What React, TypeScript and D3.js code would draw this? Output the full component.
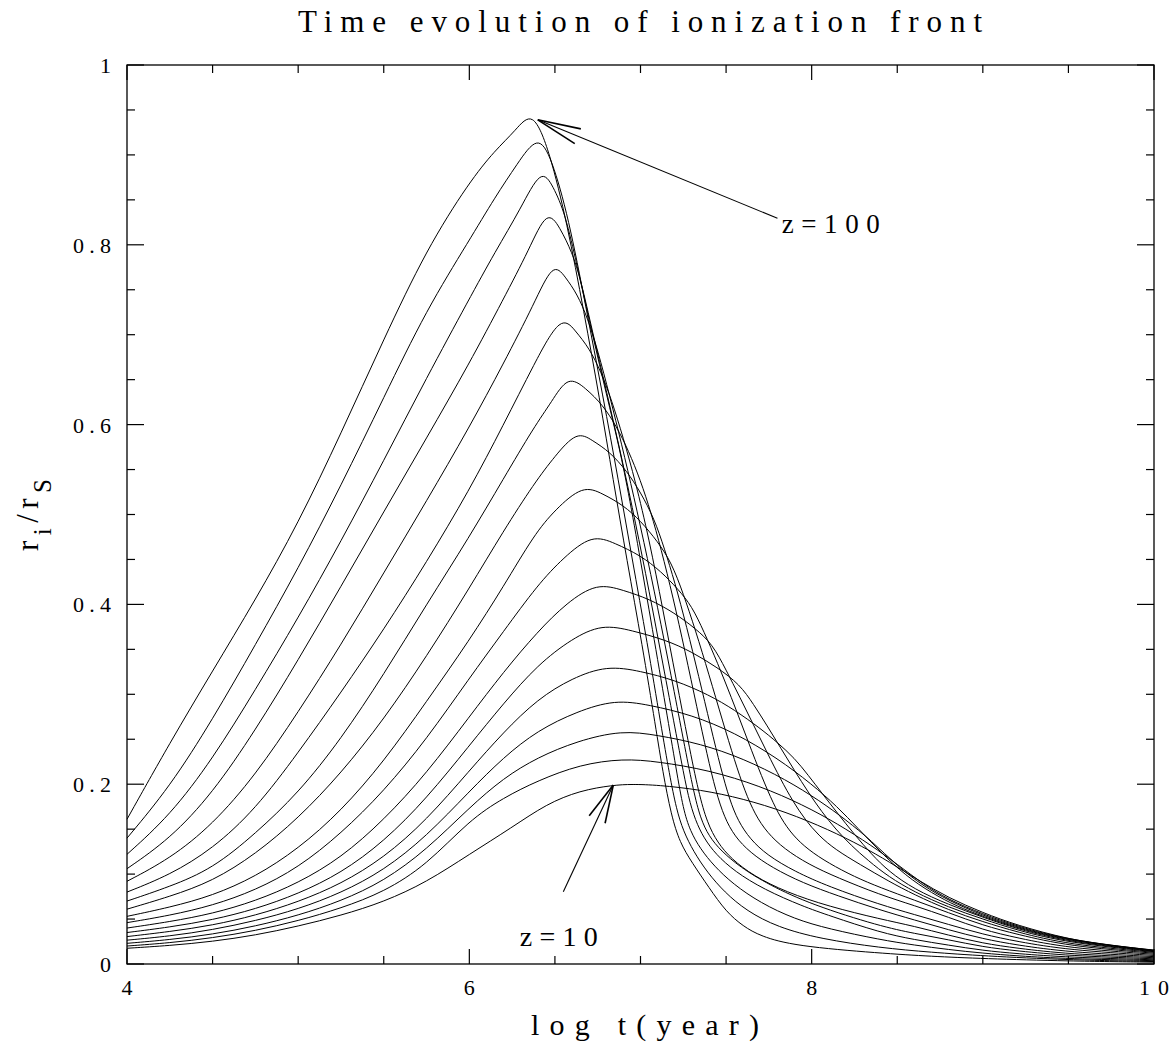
import React from 'react';
import * as d3 from 'd3';

// ---------- axes / labels ----------
const X_DOMAIN: [number, number] = [4, 10];
const Y_DOMAIN: [number, number] = [0, 1];
const X_MAJOR = [4, 6, 8, 10];
const X_MINOR = [4.5, 5, 5.5, 6.5, 7, 7.5, 8.5, 9, 9.5];
const X_LABELS = ['4', '6', '8', '10'];
const Y_MAJOR = [0, 0.2, 0.4, 0.6, 0.8, 1];
const Y_MINOR = [0.05, 0.1, 0.15, 0.25, 0.3, 0.35, 0.45, 0.5, 0.55, 0.65, 0.7, 0.75, 0.85, 0.9, 0.95];
const Y_LABELS = ['0', '0.2', '0.4', '0.6', '0.8', '1'];
const TITLE = 'Time evolution of ionization front';
const X_TITLE = 'log t(year)';

// ---------- series: [log t, r_i/r_S], one per turn-on redshift ----------
const REDSHIFTS = [10, 11.5, 13.3, 15.4, 17.8, 20.5, 23.7, 27.4, 31.6, 36.5, 42.2, 48.7, 56.2, 64.9, 75, 86.6, 100];

const Z010 = [[4.0,.0175],[4.25,.0205],[4.5,.025],[4.75,.032],[5.0,.042],[5.25,.054],[5.5,.069],[5.75,.091],[6.0,.122],[6.25,.152],[6.45,.178],[6.647,.193],[6.84,.199],[6.95,.200],[7.1,.1991],[7.35,.1939],[7.6,.1839],[7.85,.1691],[8.1,.1495],[8.3,.1304],[8.45,.114],[8.62,.0935],[8.8,.0735],[9.0,.057],[9.2,.043],[9.5,.0275],[9.75,.0205],[10,.0155]];
const Z011 = [[4.0,.020],[4.25,.0235],[4.5,.029],[4.75,.037],[5.0,.048],[5.25,.062],[5.5,.08],[5.75,.11],[6.0,.16],[6.2,.185],[6.4,.204],[6.647,.222],[6.9,.2285],[7.1,.2252],[7.4,.2157],[7.7,.198],[7.95,.177],[8.15,.1562],[8.35,.1318],[8.5,.111],[8.65,.089],[8.8,.0715],[9.0,.0555],[9.2,.042],[9.5,.0265],[10,.0152]];
const Z013 = [[4.0,.023],[4.25,.027],[4.5,.033],[4.75,.042],[5.0,.054],[5.25,.07],[5.5,.092],[5.75,.127],[6.0,.174],[6.2,.207],[6.4,.23],[6.63,.248],[6.89,.26],[7.1,.2545],[7.35,.2451],[7.6,.2286],[7.85,.2051],[8.05,.1812],[8.2,.1604],[8.35,.137],[8.5,.109],[8.65,.087],[8.8,.0705],[9.0,.054],[9.2,.041],[9.5,.026],[10,.0149]];
const Z015 = [[4.0,.0265],[4.25,.031],[4.5,.038],[4.75,.048],[5.0,.061],[5.25,.079],[5.5,.104],[5.75,.142],[6.0,.192],[6.2,.23],[6.4,.26],[6.63,.281],[6.851,.294],[7.05,.2883],[7.3,.2771],[7.55,.2574],[7.8,.229],[8.0,.2002],[8.15,.1749],[8.27,.151],[8.4,.125],[8.55,.098],[8.7,.079],[8.85,.064],[9.0,.053],[9.2,.04],[9.5,.0255],[10,.0146]];
const Z018 = [[4.0,.0305],[4.25,.036],[4.5,.043],[4.75,.054],[5.0,.069],[5.25,.089],[5.5,.118],[5.75,.16],[6.0,.215],[6.2,.258],[6.4,.295],[6.6,.318],[6.804,.332],[7.0,.3258],[7.2,.3159],[7.4,.2994],[7.55,.2826],[7.7,.2621],[7.8,.2464],[7.9,.229],[7.98,.21],[8.06,.19],[8.15,.168],[8.25,.144],[8.35,.122],[8.45,.103],[8.6,.083],[8.8,.066],[9.0,.052],[9.2,.039],[9.5,.0245],[10,.0142]];
const Z021 = [[4.0,.035],[4.25,.041],[4.5,.049],[4.75,.061],[5.0,.078],[5.25,.101],[5.5,.136],[5.75,.184],[6.0,.243],[6.2,.29],[6.4,.333],[6.6,.362],[6.775,.378],[6.95,.371],[7.15,.3603],[7.3,.3472],[7.45,.3297],[7.58,.311],[7.66,.289],[7.74,.265],[7.82,.24],[7.9,.215],[7.98,.191],[8.06,.169],[8.14,.15],[8.23,.132],[8.33,.115],[8.45,.097],[8.6,.08],[8.8,.063],[9.0,.05],[9.2,.0375],[9.5,.0235],[10,.0137]];
const Z024 = [[4.0,.040],[4.25,.047],[4.5,.056],[4.75,.07],[5.0,.09],[5.25,.118],[5.5,.16],[5.75,.212],[6.0,.275],[6.2,.325],[6.4,.37],[6.57,.402],[6.746,.424],[6.9,.4157],[7.05,.4062],[7.2,.3904],[7.32,.3733],[7.42,.356],[7.5,.327],[7.58,.297],[7.66,.266],[7.74,.235],[7.82,.205],[7.89,.181],[7.96,.161],[8.04,.143],[8.14,.127],[8.28,.111],[8.45,.092],[8.6,.077],[8.8,.06],[9.0,.047],[9.2,.0355],[9.5,.0215],[10,.013]];
const Z027 = [[4.0,.046],[4.25,.054],[4.5,.065],[4.75,.082],[5.0,.107],[5.25,.145],[5.5,.192],[5.75,.25],[6.0,.318],[6.2,.37],[6.4,.422],[6.55,.452],[6.717,.478],[6.85,.4681],[7.0,.4546],[7.12,.4366],[7.22,.4169],[7.3,.398],[7.37,.37],[7.45,.335],[7.53,.297],[7.61,.257],[7.69,.217],[7.76,.185],[7.82,.162],[7.89,.143],[7.98,.127],[8.1,.112],[8.25,.097],[8.4,.085],[8.6,.071],[8.8,.057],[9.0,.043],[9.2,.033],[9.5,.0198],[10,.012]];
const Z032 = [[4.0,.053],[4.25,.063],[4.5,.076],[4.75,.097],[5.0,.128],[5.25,.17],[5.5,.225],[5.75,.292],[6.0,.36],[6.2,.42],[6.38,.478],[6.5,.505],[6.664,.533],[6.78,.523],[6.9,.5103],[7.0,.4931],[7.1,.4699],[7.18,.447],[7.25,.412],[7.32,.372],[7.4,.322],[7.48,.27],[7.55,.226],[7.61,.192],[7.67,.166],[7.74,.146],[7.84,.128],[7.98,.111],[8.15,.096],[8.4,.077],[8.6,.065],[8.8,.052],[9.0,.038],[9.2,.029],[9.5,.0177],[10,.0108]];
const Z037 = [[4.0,.061],[4.25,.075],[4.5,.092],[4.75,.122],[5.0,.162],[5.25,.212],[5.5,.272],[5.75,.342],[6.0,.418],[6.2,.482],[6.38,.535],[6.5,.565],[6.629,.593],[6.72,.5823],[6.82,.5698],[6.92,.5484],[7.0,.5248],[7.08,.4956],[7.14,.462],[7.2,.425],[7.27,.375],[7.34,.32],[7.41,.264],[7.47,.217],[7.52,.183],[7.57,.159],[7.64,.139],[7.74,.121],[7.9,.103],[8.1,.086],[8.4,.066],[8.6,.055],[8.8,.044],[9.0,.033],[9.2,.025],[9.5,.0155],[10,.0095]];
const Z042 = [[4.0,.070],[4.25,.086],[4.5,.106],[4.75,.145],[5.0,.19],[5.25,.25],[5.5,.322],[5.75,.4],[6.0,.475],[6.2,.54],[6.38,.598],[6.48,.625],[6.576,.655],[6.68,.6405],[6.78,.6218],[6.86,.598],[6.93,.571],[7.0,.538],[7.06,.503],[7.12,.462],[7.19,.408],[7.26,.348],[7.33,.285],[7.39,.232],[7.44,.192],[7.49,.163],[7.55,.142],[7.64,.124],[7.77,.107],[7.95,.09],[8.15,.076],[8.4,.06],[8.6,.049],[8.8,.038],[9.0,.028],[9.2,.021],[9.5,.0132],[10,.0082]];
const Z049 = [[4.0,.080],[4.25,.099],[4.5,.128],[4.75,.172],[5.0,.235],[5.25,.302],[5.5,.372],[5.75,.447],[6.0,.527],[6.2,.6],[6.38,.668],[6.536,.723],[6.62,.7042],[6.7,.6852],[6.77,.6584],[6.83,.628],[6.9,.585],[6.97,.537],[7.05,.473],[7.13,.395],[7.21,.315],[7.28,.246],[7.34,.19],[7.39,.157],[7.45,.135],[7.53,.117],[7.66,.098],[7.85,.08],[8.1,.064],[8.4,.05],[8.6,.042],[8.8,.032],[9.0,.023],[9.2,.0175],[9.5,.011],[10,.007]];
const Z056 = [[4.0,.092],[4.25,.117],[4.5,.155],[4.75,.21],[5.0,.28],[5.25,.355],[5.5,.435],[5.75,.515],[6.0,.597],[6.2,.668],[6.38,.735],[6.489,.781],[6.56,.7645],[6.63,.7453],[6.69,.7189],[6.75,.683],[6.82,.632],[6.89,.578],[6.96,.521],[7.04,.452],[7.12,.378],[7.2,.3],[7.26,.24],[7.31,.192],[7.35,.162],[7.4,.142],[7.47,.126],[7.58,.108],[7.75,.088],[8.0,.066],[8.4,.042],[8.6,.034],[8.8,.027],[9.0,.019],[9.2,.0145],[9.5,.0092],[10,.0058]];
const Z065 = [[4.0,.106],[4.25,.139],[4.5,.19],[4.75,.26],[5.0,.338],[5.25,.42],[5.5,.503],[5.75,.585],[6.0,.668],[6.2,.74],[6.35,.795],[6.454,.84],[6.53,.8189],[6.6,.7918],[6.65,.762],[6.72,.703],[6.8,.638],[6.88,.572],[6.95,.51],[7.03,.435],[7.11,.355],[7.19,.274],[7.24,.224],[7.28,.185],[7.32,.16],[7.37,.14],[7.44,.122],[7.55,.103],[7.72,.083],[7.95,.064],[8.1,.054],[8.4,.035],[8.6,.027],[8.8,.021],[9.0,.015],[9.2,.0115],[9.5,.0074],[10,.0047]];
const Z075 = [[4.0,.122],[4.25,.165],[4.5,.228],[4.75,.305],[5.0,.385],[5.25,.47],[5.5,.56],[5.75,.652],[6.0,.74],[6.15,.792],[6.3,.84],[6.42,.886],[6.49,.865],[6.56,.835],[6.63,.776],[6.7,.717],[6.78,.65],[6.86,.588],[6.92,.535],[6.99,.46],[7.07,.372],[7.15,.283],[7.21,.215],[7.25,.172],[7.29,.148],[7.35,.128],[7.43,.109],[7.54,.089],[7.7,.068],[7.9,.05],[8.1,.039],[8.4,.027],[8.6,.021],[8.8,.016],[9.0,.012],[9.2,.009],[9.5,.0058],[10,.0037]];
const Z087 = [[4.0,.140],[4.25,.197],[4.5,.272],[4.75,.355],[5.0,.44],[5.25,.532],[5.5,.63],[5.75,.728],[6.0,.805],[6.15,.853],[6.28,.89],[6.40,.923],[6.48,.897],[6.58,.83],[6.68,.732],[6.78,.632],[6.871,.538],[6.95,.452],[7.04,.357],[7.12,.265],[7.17,.21],[7.21,.172],[7.25,.148],[7.31,.125],[7.39,.102],[7.49,.08],[7.62,.059],[7.8,.041],[8.05,.028],[8.4,.018],[8.7,.013],[9.0,.009],[9.5,.0045],[10,.0027]];
const Z100 = [[4.0,.161],[4.25,.246],[4.5,.326],[4.75,.405],[5.0,.49],[5.25,.59],[5.5,.695],[5.75,.795],[6.0,.87],[6.15,.905],[6.27,.927],[6.37,.951],[6.47,.903],[6.57,.825],[6.67,.725],[6.76,.63],[6.841,.538],[6.92,.45],[7.01,.355],[7.09,.262],[7.13,.214],[7.18,.165],[7.23,.135],[7.3,.113],[7.4,.085],[7.5,.058],[7.6,.042],[7.7,.031],[7.9,.020],[8.4,.012],[8.7,.0085],[9.0,.006],[9.5,.0032],[10,.002]];

const SERIES = [Z010, Z011, Z013, Z015, Z018, Z021, Z024, Z027, Z032, Z037, Z042, Z049, Z056, Z065, Z075, Z087, Z100];

// ---------- annotations (data coordinates) ----------
const ARROW_Z100 = { tip: [6.40, 0.939], tail: [7.80, 0.8295] };
const ARROW_Z10 = { tip: [6.841, 0.199], tail: [6.549, 0.0804] };
const LABEL_Z100 = { text: 'z=100', at: [7.825, 0.813] };
const LABEL_Z10 = { text: 'z=10', at: [6.295, 0.020] };

const FONT = '"Liberation Serif", "DejaVu Serif", serif';

export default function App() {
  const left = 127, right = 1154, top = 65, bottom = 964;
  const x = d3.scaleLinear().domain(X_DOMAIN).range([left, right]);
  const y = d3.scaleLinear().domain(Y_DOMAIN).range([bottom, top]);
  const line = d3.line<number[]>().x(d => x(d[0])).y(d => y(d[1])).curve(d3.curveBasis);

  const majorLen = 15, minorLen = 8;

  const arrow = (a: { tip: number[]; tail: number[] }, len: number, halfDeg: number, key: string) => {
    const tx = x(a.tip[0]), ty = y(a.tip[1]);
    const lx = x(a.tail[0]), ly = y(a.tail[1]);
    const ang = Math.atan2(ly - ty, lx - tx);
    const h = (halfDeg * Math.PI) / 180;
    const p1 = [tx + len * Math.cos(ang + h), ty + len * Math.sin(ang + h)];
    const p2 = [tx + len * Math.cos(ang - h), ty + len * Math.sin(ang - h)];
    return (
      <g key={key} stroke="#000" fill="none">
        <line x1={tx} y1={ty} x2={lx} y2={ly} strokeWidth={1.1} />
        <line x1={tx} y1={ty} x2={p1[0]} y2={p1[1]} strokeWidth={1.6} />
        <line x1={tx} y1={ty} x2={p2[0]} y2={p2[1]} strokeWidth={1.6} />
      </g>
    );
  };

  return (
    <svg width={1175} height={1047} style={{ position: 'absolute', left: 0, top: 0, background: '#fff' }}
      fontFamily={FONT}>
      <rect x={0} y={0} width={1175} height={1047} fill="#fff" />

      {/* title */}
      <text x={640} y={32} textAnchor="middle" fontSize={31} textLength={684} lengthAdjust="spacing">{TITLE}</text>

      {/* curves */}
      <g fill="none" stroke="#000" strokeWidth={1}>
        {SERIES.map((s, i) => <path key={REDSHIFTS[i]} d={line(s) || ''} />)}
      </g>

      {/* frame */}
      <rect x={left} y={top} width={right - left} height={bottom - top} fill="none" stroke="#000" strokeWidth={1.3} />

      {/* ticks */}
      <g stroke="#000" strokeWidth={1.2}>
        {X_MAJOR.map(v => (
          <g key={'xM' + v}>
            <line x1={x(v)} x2={x(v)} y1={bottom} y2={bottom - majorLen} />
            <line x1={x(v)} x2={x(v)} y1={top} y2={top + majorLen} />
          </g>
        ))}
        {X_MINOR.map(v => (
          <g key={'xm' + v}>
            <line x1={x(v)} x2={x(v)} y1={bottom} y2={bottom - minorLen} />
            <line x1={x(v)} x2={x(v)} y1={top} y2={top + minorLen} />
          </g>
        ))}
        {Y_MAJOR.map(v => (
          <g key={'yM' + v}>
            <line x1={left} x2={left + majorLen + 2} y1={y(v)} y2={y(v)} />
            <line x1={right} x2={right - majorLen - 2} y1={y(v)} y2={y(v)} />
          </g>
        ))}
        {Y_MINOR.map(v => (
          <g key={'ym' + v}>
            <line x1={left} x2={left + minorLen} y1={y(v)} y2={y(v)} />
            <line x1={right} x2={right - minorLen} y1={y(v)} y2={y(v)} />
          </g>
        ))}
      </g>

      {/* tick labels */}
      <g fontSize={22} fill="#000">
        {Y_MAJOR.map((v, i) => (
          <text key={'yl' + v} x={111} y={y(v) + 8} textAnchor="end"
            {...(Y_LABELS[i].length > 1 ? { textLength: 38, lengthAdjust: 'spacing' } : {})}>{Y_LABELS[i]}</text>
        ))}
        {X_MAJOR.map((v, i) => (
          <text key={'xl' + v} x={x(v)} y={995} textAnchor="middle"
            {...(X_LABELS[i].length > 1 ? { textLength: 30, lengthAdjust: 'spacing' } : {})}>{X_LABELS[i]}</text>
        ))}
      </g>

      {/* axis titles */}
      <text x={645} y={1035} textAnchor="middle" fontSize={30} textLength={228} lengthAdjust="spacing">{X_TITLE}</text>
      <text transform="translate(38,551) rotate(-90)" fontSize={31} textLength={72} lengthAdjust="spacing">
        r<tspan fontSize={25} dy={13}>i</tspan><tspan dy={-13}>/</tspan>r<tspan fontSize={25} dy={13}>S</tspan>
      </text>

      {/* annotations */}
      {arrow(ARROW_Z100, 44, 10.5, 'a100')}
      {arrow(ARROW_Z10, 39, 13, 'a10')}
      <text x={x(LABEL_Z100.at[0])} y={y(LABEL_Z100.at[1])} fontSize={27} textLength={98} lengthAdjust="spacing">{LABEL_Z100.text}</text>
      <text x={x(LABEL_Z10.at[0])} y={y(LABEL_Z10.at[1])} fontSize={28} textLength={78} lengthAdjust="spacing">{LABEL_Z10.text}</text>
    </svg>
  );
}
